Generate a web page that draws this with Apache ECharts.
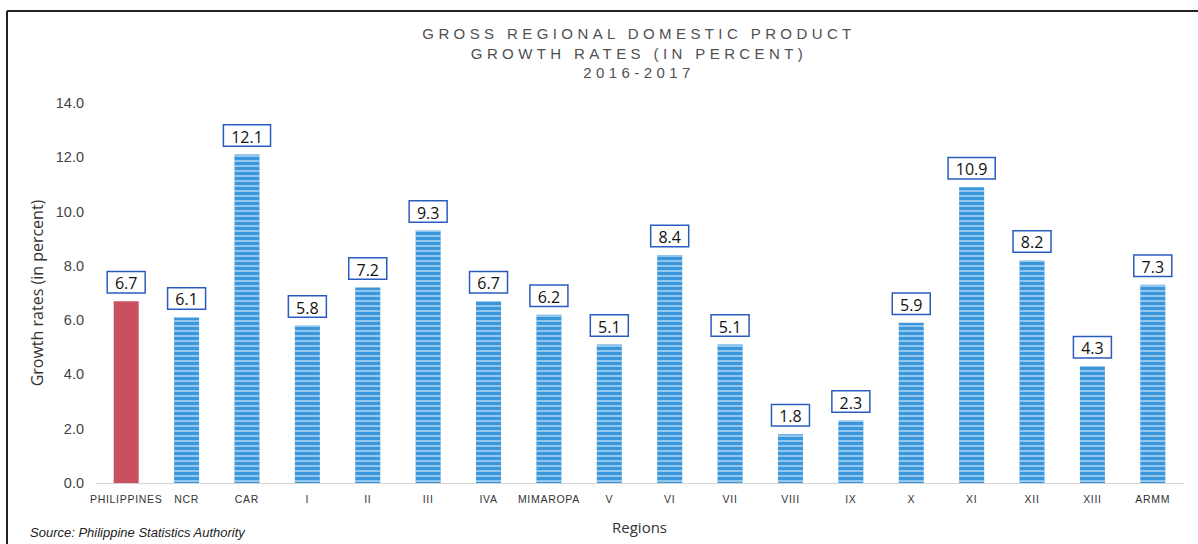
<!DOCTYPE html>
<html>
<head>
<meta charset="utf-8">
<script src="https://cdn.jsdelivr.net/npm/echarts@6/dist/echarts.min.js"></script>
<style>
html,body{margin:0;padding:0;background:#fff;}
#c{width:1198px;height:544px;}
#c svg text[fill="#505050"]{letter-spacing:4.4px;}
#c svg text[fill="#333334"]{letter-spacing:0.7px;}
</style>
</head>
<body>
<div id="c"></div>
<script>
const categories = ['PHILIPPINES','NCR','CAR','I','II','III','IVA','MIMAROPA','V','VI','VII','VIII','IX','X','XI','XII','XIII','ARMM'];
const growthRates = [6.7,6.1,12.1,5.8,7.2,9.3,6.7,6.2,5.1,8.4,5.1,1.8,2.3,5.9,10.9,8.2,4.3,7.3];
const yTicks = [0,2,4,6,8,10,12,14];

const chart = echarts.init(document.getElementById('c'), null, {renderer:'svg'});
const barData = growthRates.map((v,i)=> i===0
  ? {value:v, itemStyle:{color:'#c8505f', decal:{symbol:'rect', color:'rgba(0,0,0,0)'}}}
  : v);

chart.setOption({
  animation:false,
  backgroundColor:'#fff',
  title:{
    text:'GROSS REGIONAL DOMESTIC PRODUCT\nGROWTH RATES (IN PERCENT)\n2016-2017',
    left:634, top:19, textAlign:'center',
    textStyle:{fontFamily:'Liberation Sans', fontSize:15, fontWeight:'normal', color:'#505050', lineHeight:19.5}
  },
  graphic:[
    {type:'line', shape:{x1:7,y1:11,x2:1198,y2:11}, style:{stroke:'#222',lineWidth:2}},
    {type:'line', shape:{x1:7,y1:11,x2:7,y2:544}, style:{stroke:'#222',lineWidth:2}},
    {type:'text', left:30, top:526, style:{text:'Source: Philippine Statistics Authority', fontFamily:'Liberation Sans', fontStyle:'italic', fontSize:13, fill:'#222'}}
  ],
  grid:{left:96, right:15, top:103, bottom:61},
  xAxis:{
    type:'category', data:categories,
    name:'Regions', nameLocation:'middle', nameGap:36,
    nameTextStyle:{fontFamily:'Open Sans', fontSize:15, color:'#333'},
    axisLine:{lineStyle:{color:'#ccc', type:'dotted', width:1}},
    axisTick:{show:false},
    axisLabel:{fontFamily:'Liberation Sans', fontSize:10.5, color:'#333334', margin:10, interval:0}
  },
  yAxis:{
    type:'value', min:0, max:14, interval:2,
    name:'Growth rates (in percent)', nameLocation:'middle', nameGap:50,
    nameTextStyle:{fontFamily:'Open Sans', fontSize:16, color:'#333'},
    axisLine:{show:false}, axisTick:{show:false}, splitLine:{show:false},
    axisLabel:{fontFamily:'Liberation Sans', fontSize:14.5, color:'#444', margin:12,
      formatter:v=> yTicks.includes(v) ? v.toFixed(1) : ''}
  },
  series:[{
    type:'bar', data:barData, barWidth:25,
    itemStyle:{color:'#3a97dc', decal:{symbol:'rect', symbolSize:1, dashArrayX:[1,0], dashArrayY:[2,3], color:'rgba(255,255,255,0.45)', rotation:0}},
    label:{show:true, position:'top', distance:9,
      formatter:p=>p.value.toFixed(1),
      fontFamily:'Open Sans', fontSize:16, color:'#111',
      backgroundColor:'#fff', borderColor:'#2a5cc0', borderWidth:1.5,
      padding:[3,7,1,7]}
  }]
});
</script>
</body>
</html>
